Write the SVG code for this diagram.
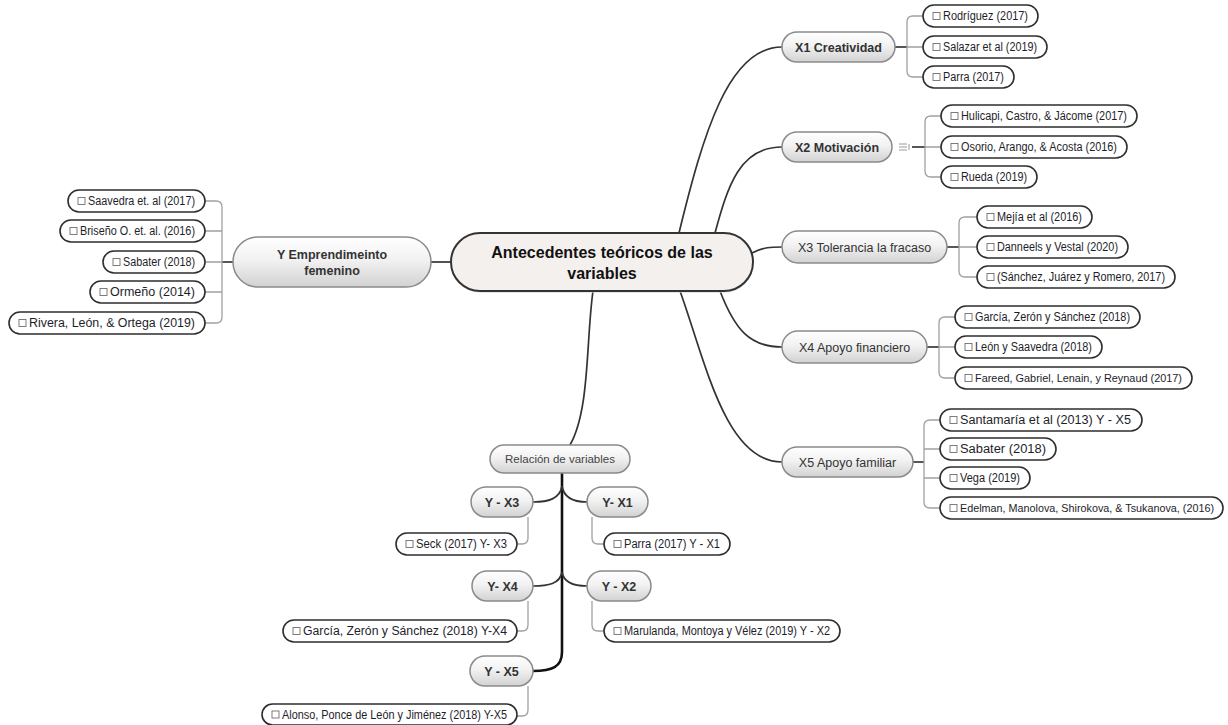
<svg xmlns="http://www.w3.org/2000/svg" width="1228" height="725" viewBox="0 0 1228 725">
<defs>
<linearGradient id="gBranch" x1="0" y1="0" x2="0" y2="1">
<stop offset="0" stop-color="#ffffff"/>
<stop offset="0.45" stop-color="#f2f2f2"/>
<stop offset="1" stop-color="#d2d2d2"/>
</linearGradient>
<style>
text{font-family:"Liberation Sans",Arial,sans-serif}
.leaf rect.b{fill:#ffffff;stroke:#2e2e2e;stroke-width:1.6}
.leaf rect.cb{fill:#ffffff;stroke:#6f6f6f;stroke-width:0.9}
.leaf text{font-size:12px;fill:#1e1e2a}
.leaf text.sm{font-size:11px}
.br rect{fill:url(#gBranch);stroke:#8a8a8a;stroke-width:1.5}
.br text{font-size:12.5px;fill:#333333;text-anchor:middle}
.br text.bd{font-weight:bold}
.main{fill:none;stroke:#333333;stroke-width:1.7}
.trunk{fill:none;stroke:#111111;stroke-width:2.6}
.thin{fill:none;stroke:#a0a0a0;stroke-width:1.3}
.stub{fill:none;stroke:#444444;stroke-width:1.8}
</style>
</defs>
<rect width="1228" height="725" fill="#ffffff"/>

<g id="connectors">
<path class="main" d="M679,233 C703,135 728,47 782,47"/>
<path class="main" d="M715,233 C728,185 740,147 782,147"/>
<path class="main" d="M752,253 C765,247 770,247 782,247"/>
<path class="main" d="M720,291 C735,330 750,347 782,347"/>
<path class="main" d="M680,291 C705,360 725,462 782,462"/>
<path class="main" d="M452,262 H431"/>
<path class="main" d="M593,291 C586,340 590,410 570,445"/>
<path class="trunk" d="M562,473 V652 C562,667 552,671 533,671"/>
<path class="main" d="M562,486 C560,499 548,502 533,502"/>
<path class="main" d="M562,486 C564,499 576,502 587,502"/>
<path class="main" d="M562,572 C560,584 548,586 533,586"/>
<path class="main" d="M562,572 C564,584 576,586 587,586"/>
<path class="thin" d="M528,517 V538 Q528,544 522,544 H517"/>
<path class="thin" d="M592,517 V538 Q592,544 598,544 H604"/>
<path class="thin" d="M528,601 V625 Q528,631 522,631 H517"/>
<path class="thin" d="M592,601 V625 Q592,631 598,631 H604"/>
<path class="thin" d="M528,686 V710 Q528,716 522,716 H517"/>
<path class="stub" d="M895,47 H907"/>
<path class="thin" d="M923,16 H913 Q907,16 907,22 V71 Q907,77 913,77 H923 M907,47 H923"/>
<path class="stub" d="M912,147 H925"/>
<path class="thin" d="M941,116 H931 Q925,116 925,122 V171 Q925,177 931,177 H941 M925,147 H941"/>
<path class="stub" d="M947,247 H959"/>
<path class="thin" d="M977,217 H965 Q959,217 959,223 V271 Q959,277 965,277 H977 M959,247 H977"/>
<path class="stub" d="M927,347 H939"/>
<path class="thin" d="M955,317 H945 Q939,317 939,323 V372 Q939,378 945,378 H955 M939,347 H955"/>
<path class="stub" d="M913,462 H924"/>
<path class="thin" d="M940,420 H930 Q924,420 924,426 V502 Q924,508 930,508 H940 M924,449 H940 M924,478 H940"/>
<path class="stub" d="M222,262 H233"/>
<path class="thin" d="M205,201 H216 Q222,201 222,207 V317 Q222,323 216,323 H205 M205,231 H222 M205,262 H222 M205,292 H222"/>
</g>

<g id="central">
<rect x="453" y="235" width="300" height="58" rx="29" fill="#d8d4d2" opacity="0.6"/>
<rect x="451" y="233" width="302" height="58" rx="29" fill="#f4f0ee" stroke="#333333" stroke-width="2"/>
<text x="602" y="258" text-anchor="middle" font-size="16" font-weight="bold" fill="#111111">Antecedentes teóricos de las</text>
<text x="602" y="279" text-anchor="middle" font-size="16" font-weight="bold" fill="#111111">variables</text>
</g>

<g id="x1" class="br"><rect x="782" y="32" width="113" height="30" rx="15"/><text class="bd" x="838.5" y="51.5" font-size="12">X1 Creatividad</text></g>
<g id="x2" class="br"><rect x="782" y="132" width="110" height="30" rx="15"/><text class="bd" x="837" y="151.5">X2 Motivación</text></g>
<g id="x2-icon" fill="none" stroke="#9a9a9a" stroke-width="1">
<path d="M899,144 H907 M899,147 H907 M899,150 H907 M909,144 V150"/>
</g>
<g id="x3" class="br"><rect x="782" y="231" width="165" height="32" rx="16"/><text x="864.5" y="251.5">X3 Tolerancia la fracaso</text></g>
<g id="x4" class="br"><rect x="782" y="331" width="145" height="32" rx="16"/><text x="854.5" y="351.5">X4 Apoyo financiero</text></g>
<g id="x5" class="br"><rect x="782" y="447" width="131" height="30" rx="15"/><text x="847.5" y="466.5">X5 Apoyo familiar</text></g>
<g id="y" class="br"><rect x="233" y="237" width="198" height="50" rx="25"/><text class="bd" x="332" y="259">Y Emprendimeinto</text><text class="bd" x="332" y="275">femenino</text></g>
<g id="relacion" class="br"><rect x="490" y="445" width="140" height="28" rx="14"/><text x="560" y="463" style="font-size:11.5px;fill:#444">Relación de variables</text></g>
<g id="yx3" class="br"><rect x="471" y="487" width="62" height="30" rx="15"/><text class="bd" x="502" y="506.5">Y - X3</text></g>
<g id="yx1" class="br"><rect x="587" y="487" width="61" height="30" rx="15"/><text class="bd" x="617.5" y="506.5">Y- X1</text></g>
<g id="yx4" class="br"><rect x="472" y="571" width="61" height="30" rx="15"/><text class="bd" x="502.5" y="590.5">Y- X4</text></g>
<g id="yx2" class="br"><rect x="587" y="571" width="64" height="30" rx="15"/><text class="bd" x="619" y="590.5">Y - X2</text></g>
<g id="yx5" class="br"><rect x="470" y="656" width="63" height="30" rx="15"/><text class="bd" x="501.5" y="675.5">Y - X5</text></g>

<g id="x1-l1" class="leaf"><rect class="b" x="923" y="5" width="115" height="22" rx="11"/><rect class="cb" x="933" y="12.5" width="7" height="7"/><text x="943" y="20" textLength="85" lengthAdjust="spacingAndGlyphs">Rodríguez (2017)</text></g>
<g id="x1-l2" class="leaf"><rect class="b" x="923" y="36" width="124" height="22" rx="11"/><rect class="cb" x="933" y="43.5" width="7" height="7"/><text x="943" y="51" textLength="94" lengthAdjust="spacingAndGlyphs">Salazar et al (2019)</text></g>
<g id="x1-l3" class="leaf"><rect class="b" x="923" y="66" width="91" height="22" rx="11"/><rect class="cb" x="933" y="73.5" width="7" height="7"/><text x="943" y="81" textLength="61" lengthAdjust="spacingAndGlyphs">Parra (2017)</text></g>
<g id="x2-l1" class="leaf"><rect class="b" x="941" y="105" width="196" height="22" rx="11"/><rect class="cb" x="951" y="112.5" width="7" height="7"/><text x="961" y="120" textLength="166" lengthAdjust="spacingAndGlyphs">Hulicapi, Castro, &amp; Jácome (2017)</text></g>
<g id="x2-l2" class="leaf"><rect class="b" x="941" y="136" width="186" height="22" rx="11"/><rect class="cb" x="951" y="143.5" width="7" height="7"/><text x="961" y="151" textLength="156" lengthAdjust="spacingAndGlyphs">Osorio, Arango, &amp; Acosta (2016)</text></g>
<g id="x2-l3" class="leaf"><rect class="b" x="941" y="166" width="96" height="22" rx="11"/><rect class="cb" x="951" y="173.5" width="7" height="7"/><text x="961" y="181" textLength="66" lengthAdjust="spacingAndGlyphs">Rueda (2019)</text></g>
<g id="x3-l1" class="leaf"><rect class="b" x="977" y="206" width="115" height="22" rx="11"/><rect class="cb" x="987" y="213.5" width="7" height="7"/><text x="997" y="221" textLength="85" lengthAdjust="spacingAndGlyphs">Mejía et al (2016)</text></g>
<g id="x3-l2" class="leaf"><rect class="b" x="977" y="236" width="151" height="22" rx="11"/><rect class="cb" x="987" y="243.5" width="7" height="7"/><text x="997" y="251" textLength="121" lengthAdjust="spacingAndGlyphs">Danneels y Vestal (2020)</text></g>
<g id="x3-l3" class="leaf"><rect class="b" x="977" y="266" width="198" height="22" rx="11"/><rect class="cb" x="987" y="273.5" width="7" height="7"/><text x="997" y="281" textLength="168" lengthAdjust="spacingAndGlyphs">(Sánchez, Juárez y Romero, 2017)</text></g>
<g id="x4-l1" class="leaf"><rect class="b" x="955" y="306" width="185" height="22" rx="11"/><rect class="cb" x="965" y="313.5" width="7" height="7"/><text x="975" y="321" textLength="155" lengthAdjust="spacingAndGlyphs">García, Zerón y Sánchez (2018)</text></g>
<g id="x4-l2" class="leaf"><rect class="b" x="955" y="336" width="147" height="22" rx="11"/><rect class="cb" x="965" y="343.5" width="7" height="7"/><text x="975" y="351" textLength="117" lengthAdjust="spacingAndGlyphs">León y Saavedra (2018)</text></g>
<g id="x4-l3" class="leaf"><rect class="b" x="955" y="367" width="237" height="22" rx="11"/><rect class="cb" x="965" y="374.5" width="7" height="7"/><text x="975" y="382" class="sm" textLength="207" lengthAdjust="spacingAndGlyphs">Fareed, Gabriel, Lenain, y Reynaud (2017)</text></g>
<g id="x5-l1" class="leaf"><rect class="b" x="940" y="409" width="202" height="22" rx="11"/><rect class="cb" x="950" y="416.5" width="7" height="7"/><text x="960" y="424" textLength="171" lengthAdjust="spacingAndGlyphs">Santamaría et al (2013) Y - X5</text></g>
<g id="x5-l2" class="leaf"><rect class="b" x="940" y="438" width="116" height="22" rx="11"/><rect class="cb" x="950" y="445.5" width="7" height="7"/><text x="960" y="453" textLength="86" lengthAdjust="spacingAndGlyphs">Sabater (2018)</text></g>
<g id="x5-l3" class="leaf"><rect class="b" x="940" y="467" width="90" height="22" rx="11"/><rect class="cb" x="950" y="474.5" width="7" height="7"/><text x="960" y="482" textLength="60" lengthAdjust="spacingAndGlyphs">Vega (2019)</text></g>
<g id="x5-l4" class="leaf"><rect class="b" x="940" y="497" width="283" height="22" rx="11"/><rect class="cb" x="950" y="504.5" width="7" height="7"/><text x="960" y="512" class="sm" textLength="254" lengthAdjust="spacingAndGlyphs">Edelman, Manolova, Shirokova, &amp; Tsukanova, (2016)</text></g>
<g id="y-l1" class="leaf"><rect class="b" x="68" y="190" width="137" height="22" rx="11"/><rect class="cb" x="78" y="197.5" width="7" height="7"/><text x="88" y="205" textLength="107" lengthAdjust="spacingAndGlyphs">Saavedra et. al (2017)</text></g>
<g id="y-l2" class="leaf"><rect class="b" x="60" y="220" width="145" height="22" rx="11"/><rect class="cb" x="70" y="227.5" width="7" height="7"/><text x="80" y="235" textLength="115" lengthAdjust="spacingAndGlyphs">Briseño O. et. al. (2016)</text></g>
<g id="y-l3" class="leaf"><rect class="b" x="103" y="251" width="102" height="22" rx="11"/><rect class="cb" x="113" y="258.5" width="7" height="7"/><text x="123" y="266" textLength="72" lengthAdjust="spacingAndGlyphs">Sabater (2018)</text></g>
<g id="y-l4" class="leaf"><rect class="b" x="90" y="281" width="115" height="22" rx="11"/><rect class="cb" x="100" y="288.5" width="7" height="7"/><text x="110" y="296" textLength="85" lengthAdjust="spacingAndGlyphs">Ormeño (2014)</text></g>
<g id="y-l5" class="leaf"><rect class="b" x="9" y="312" width="196" height="22" rx="11"/><rect class="cb" x="19" y="319.5" width="7" height="7"/><text x="29" y="327" textLength="166" lengthAdjust="spacingAndGlyphs">Rivera, León, &amp; Ortega (2019)</text></g>
<g id="yx3-l1" class="leaf"><rect class="b" x="396" y="533" width="121" height="22" rx="11"/><rect class="cb" x="406" y="540.5" width="7" height="7"/><text x="416" y="548" textLength="91" lengthAdjust="spacingAndGlyphs">Seck (2017)  Y- X3</text></g>
<g id="yx1-l1" class="leaf"><rect class="b" x="604" y="533" width="126" height="22" rx="11"/><rect class="cb" x="614" y="540.5" width="7" height="7"/><text x="624" y="548" textLength="96" lengthAdjust="spacingAndGlyphs">Parra (2017) Y - X1</text></g>
<g id="yx4-l1" class="leaf"><rect class="b" x="283" y="620" width="234" height="22" rx="11"/><rect class="cb" x="293" y="627.5" width="7" height="7"/><text x="303" y="635" textLength="204" lengthAdjust="spacingAndGlyphs">García, Zerón y Sánchez (2018) Y-X4</text></g>
<g id="yx2-l1" class="leaf"><rect class="b" x="604" y="620" width="236" height="22" rx="11"/><rect class="cb" x="614" y="627.5" width="7" height="7"/><text x="624" y="635" textLength="206" lengthAdjust="spacingAndGlyphs">Marulanda, Montoya y Vélez (2019) Y - X2</text></g>
<g id="yx5-l1" class="leaf"><rect class="b" x="262" y="704" width="255" height="21" rx="10.5"/><rect class="cb" x="272" y="711" width="7" height="7"/><text x="282" y="718.5" textLength="225" lengthAdjust="spacingAndGlyphs">Alonso, Ponce de León y Jiménez (2018) Y-X5</text></g>
</svg>
